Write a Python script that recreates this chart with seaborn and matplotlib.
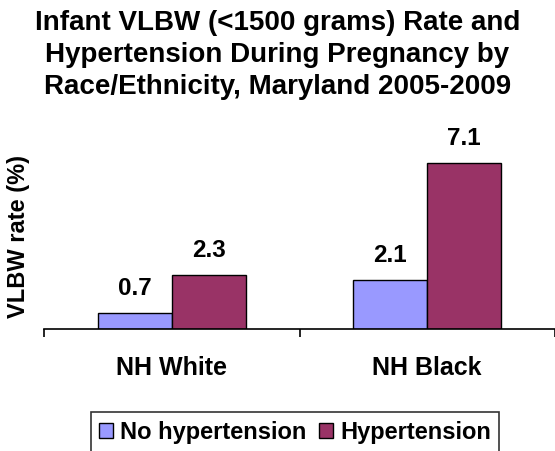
import seaborn as sns
import matplotlib.pyplot as plt
import pandas as pd

# data ----------------------------
groups = ["NH White", "NH Black"]
series = ["No hypertension", "Hypertension"]
no_htn = [0.7, 2.1]
htn = [2.3, 7.1]
colors = ["#9999FF", "#993366"]

df = pd.DataFrame({
    "group": groups * 2,
    "status": [series[0]] * 2 + [series[1]] * 2,
    "rate": no_htn + htn,
})

sns.set_style("white")
plt.rcParams['font.family'] = ['Liberation Sans', 'DejaVu Sans']
plt.rcParams['text.color'] = 'black'
plt.rcParams['axes.labelcolor'] = 'black'
plt.rcParams['xtick.color'] = 'black'

fig = plt.figure(figsize=(5.55, 4.52), dpi=100)
ax = fig.add_axes([44 / 555, 122 / 452, 1 - 44 / 555, 187 / 452])

sns.barplot(data=df, x="group", y="rate", hue="status",
            hue_order=series, palette=colors, width=0.58, gap=0,
            edgecolor="black", linewidth=1, saturation=1,
            legend=True, ax=ax)

# value labels above bars
for cont in ax.containers:
    ax.bar_label(cont, fmt="%.1f", padding=10, fontsize=17.5, fontweight="bold")

ax.set_xlim(-0.5, 1.5)
ax.set_ylim(0, 8)
ax.set_yticks([])
ax.set_xlabel("")
ax.set_ylabel("VLBW rate (%)", fontsize=17, fontweight="bold", labelpad=10)

for s in ["top", "right", "left"]:
    ax.spines[s].set_visible(False)
ax.spines["bottom"].set_color("black")
ax.spines["bottom"].set_linewidth(1.2)

ax.tick_params(axis="x", which="major", length=0, pad=19)
ax.set_xticks([-0.5, 0.5, 1.5], minor=True)
ax.tick_params(axis="x", which="minor", length=6, width=1.2, color="black",
               direction="out", bottom=True)
for t in ax.get_xticklabels():
    t.set_fontweight("bold")
    t.set_fontsize(18)

fig.suptitle("Infant VLBW (<1500 grams) Rate and\nHypertension During Pregnancy by\nRace/Ethnicity, Maryland 2005-2009",
             fontsize=20, fontweight="bold", y=0.978, linespacing=1.3)

handles, labels = ax.get_legend_handles_labels()
ax.get_legend().remove()
leg = fig.legend(handles, labels, loc="center", ncol=2,
                 bbox_to_anchor=(295 / 555, 1 - 433 / 452),
                 frameon=True, fancybox=False, edgecolor="black",
                 prop={"weight": "bold", "size": 17},
                 handlelength=0.6, handleheight=0.6, handletextpad=0.3,
                 columnspacing=0.5, borderpad=0.35, borderaxespad=0)
leg.get_frame().set_linewidth(1.2)

fig.savefig("out.png", dpi=100)
